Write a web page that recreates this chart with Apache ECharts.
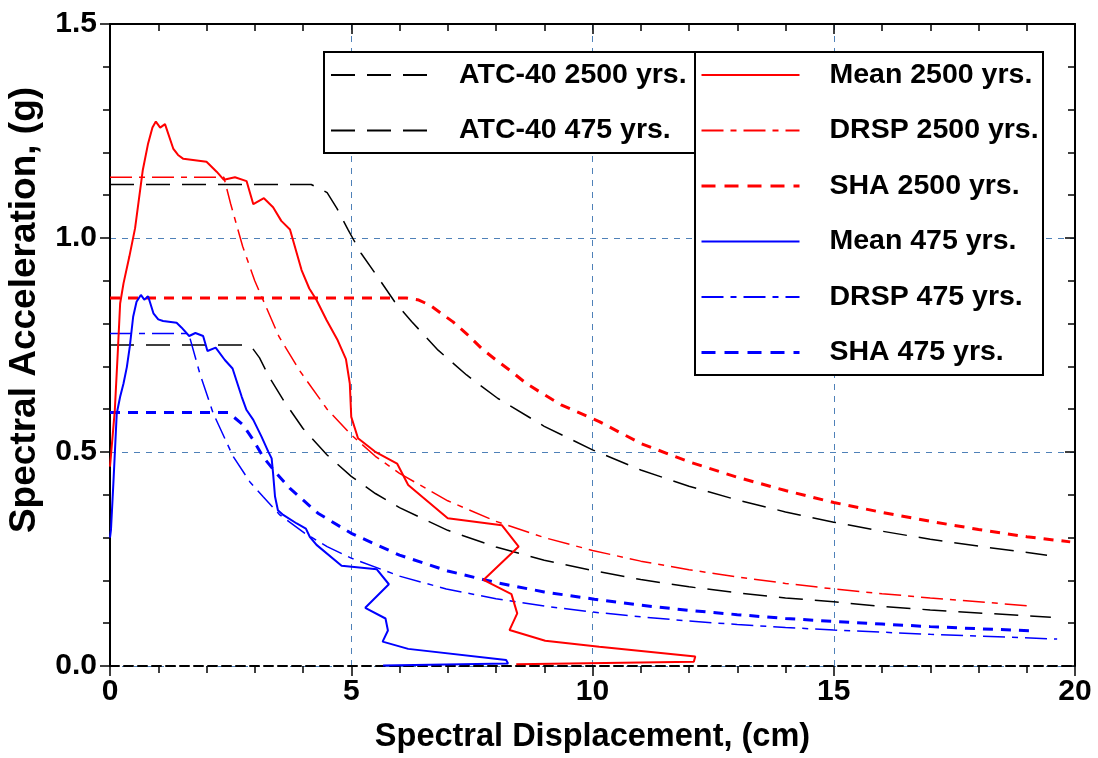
<!DOCTYPE html>
<html>
<head>
<meta charset="utf-8">
<script src="https://cdn.jsdelivr.net/npm/echarts@6/dist/echarts.min.js"></script>
<style>
html,body{margin:0;padding:0;background:#fff;}
#chart{width:1098px;height:758px;}
</style>
</head>
<body>
<div id="chart"></div>
<script>
// ---- data (x: cm, y: g) ----
const atc2500 = [[0,1.125],[4.17,1.125],[4.35,1.115],[4.5,1.106],[4.7,1.07],[4.93,1.02],[5.2,0.965],[5.59,0.902],[5.9,0.851],[6.25,0.805],[6.8,0.738],[7.39,0.68],[8.04,0.625],[9,0.56],[10,0.505],[11,0.458],[12,0.42],[13,0.388],[14,0.36],[15,0.336],[16,0.315],[17,0.296],[18,0.28],[19.42,0.259]];
const atc475 = [[0,0.75],[2.80,0.75],[2.95,0.743],[3.1,0.72],[3.3,0.675],[3.6,0.62],[4.0,0.555],[4.5,0.493],[5.0,0.443],[5.5,0.403],[6,0.37],[7,0.317],[8,0.278],[9,0.247],[10,0.223],[11,0.202],[12,0.185],[13,0.171],[14,0.159],[15,0.15],[16,0.139],[17,0.131],[18,0.124],[19.5,0.114]];
const mean2500 = [[0.0,0.466],[0.10,0.598],[0.16,0.73],[0.19,0.80],[0.21,0.847],[0.28,0.894],[0.40,0.956],[0.52,1.023],[0.68,1.159],[0.79,1.221],[0.88,1.258],[0.95,1.272],[1.04,1.258],[1.14,1.266],[1.31,1.209],[1.41,1.194],[1.52,1.185],[2.0,1.178],[2.21,1.155],[2.36,1.136],[2.59,1.142],[2.83,1.133],[2.97,1.079],[3.19,1.093],[3.38,1.072],[3.55,1.040],[3.73,1.020],[3.97,0.925],[4.13,0.882],[4.28,0.855],[4.49,0.808],[4.71,0.763],[4.89,0.717],[4.97,0.660],[5.0,0.582],[5.14,0.532],[5.49,0.501],[5.95,0.473],[6.18,0.423],[7.0,0.345],[8.12,0.329],[8.47,0.279],[7.74,0.201],[8.32,0.168],[8.44,0.123],[8.28,0.084],[9.02,0.059],[10.14,0.045],[12.13,0.022],[12.1,0.01],[8.42,0.004]];
const drsp2500 = [[0,1.142],[2.36,1.142],[2.5,1.08],[2.75,0.98],[3.0,0.9],[3.5,0.77],[3.93,0.69],[4.5,0.60],[5.0,0.54],[5.5,0.49],[6,0.45],[7,0.386],[8,0.338],[9,0.30],[10,0.27],[11,0.245],[12,0.225],[13,0.208],[14,0.193],[15,0.18],[16,0.169],[17,0.159],[18,0.15],[19.0,0.141]];
const sha2500 = [[0,0.86],[6.14,0.86],[6.4,0.855],[6.63,0.843],[7.11,0.804],[7.42,0.773],[7.70,0.742],[8.0,0.715],[8.32,0.688],[8.63,0.66],[8.97,0.636],[9.35,0.61],[10.14,0.571],[11,0.52],[12,0.477],[13,0.441],[14,0.41],[15,0.382],[16,0.359],[17,0.338],[18,0.319],[19,0.302],[19.9,0.29]];
const mean475 = [[0.0,0.30],[0.02,0.318],[0.07,0.427],[0.14,0.590],[0.21,0.629],[0.28,0.66],[0.35,0.699],[0.41,0.746],[0.48,0.816],[0.55,0.851],[0.64,0.867],[0.71,0.856],[0.79,0.864],[0.90,0.824],[1.0,0.81],[1.10,0.806],[1.38,0.802],[1.48,0.791],[1.64,0.771],[1.77,0.778],[1.93,0.771],[2.02,0.736],[2.19,0.744],[2.38,0.715],[2.54,0.695],[2.73,0.629],[2.83,0.598],[2.97,0.575],[3.14,0.536],[3.28,0.501],[3.35,0.485],[3.38,0.450],[3.42,0.396],[3.48,0.364],[3.59,0.353],[3.87,0.333],[4.06,0.321],[4.14,0.302],[4.28,0.283],[4.80,0.234],[5.53,0.226],[5.78,0.191],[5.29,0.136],[5.71,0.111],[5.76,0.083],[5.65,0.057],[6.18,0.040],[8.21,0.014],[8.25,0.006],[5.66,0.001]];
const drsp475 = [[0,0.777],[1.63,0.777],[1.86,0.684],[2.14,0.59],[2.55,0.49],[2.9,0.43],[3.17,0.396],[3.52,0.353],[4.04,0.31],[4.5,0.279],[5,0.252],[6,0.21],[6.97,0.18],[8,0.157],[9,0.14],[10,0.126],[11,0.115],[12,0.105],[13,0.097],[14,0.09],[15,0.084],[16,0.079],[17,0.074],[18,0.07],[19.63,0.063]];
const sha475 = [[0,0.592],[2.45,0.592],[2.52,0.586],[2.76,0.563],[2.97,0.528],[3.17,0.489],[3.45,0.45],[3.73,0.415],[4.04,0.384],[4.31,0.357],[5,0.31],[6,0.259],[7,0.222],[8,0.195],[9,0.173],[10.04,0.156],[11,0.142],[12,0.13],[13,0.12],[14,0.111],[15,0.104],[16,0.098],[17,0.092],[18,0.087],[19.2,0.082]];

const legendLeftNames = ['ATC-40 2500 yrs.', 'ATC-40 475 yrs.'];
const legendRightNames = ['Mean 2500 yrs.', 'DRSP 2500 yrs.', 'SHA 2500 yrs.', 'Mean 475 yrs.', 'DRSP 475 yrs.', 'SHA 475 yrs.'];
const xTitle = 'Spectral Displacement, (cm)';
const yTitle = 'Spectral Acceleration, (g)';

// ---- styles ----
const FONT = 'Liberation Sans, Arial, sans-serif';
const RED = '#ff0000', BLUE = '#0000ff', BLACK = '#000000';
const GRIDC = '#4f81b8';

function ser(name, data, color, type, width, z) {
  return {
    name, type: 'line', data, symbol: 'none', showSymbol: false,
    xAxisIndex: 0, yAxisIndex: 0, z: z || 2, silent: true, animation: false,
    lineStyle: { color, type, width, cap: 'butt' },
    itemStyle: { color }
  };
}

const chart = echarts.init(document.getElementById('chart'), null, { renderer: 'canvas' });

const baseTick = { show: true, length: 10, lineStyle: { color: BLACK, width: 1.5 } };
const baseMinor = { show: true, splitNumber: 5, length: 7, lineStyle: { color: BLACK, width: 1.5 } };

const legendCommon = {
  orient: 'vertical', top: 60, z: 20,
  itemHeight: 30, itemGap: 25.5,
  itemStyle: { opacity: 0, borderWidth: 0 },
  selectedMode: false, padding: 0
};

function legendItems(names) {
  return names.map(n => n.indexOf('SHA') === 0
    ? { name: n, lineStyle: { width: 3, type: [14, 9] } }
    : { name: n });
}

const option = {
  animation: false,
  backgroundColor: '#ffffff',
  grid: { left: 110, right: 23, top: 24, bottom: 92, containLabel: false, outerBoundsMode: 'none' },
  xAxis: [
    {
      type: 'value', position: 'bottom', min: 0, max: 20, interval: 5,
      name: xTitle, nameLocation: 'middle', nameGap: 55,
      nameTextStyle: { fontFamily: FONT, fontWeight: 'bold', fontSize: 32.5, color: BLACK },
      axisLine: { show: true, onZero: false, lineStyle: { color: BLACK, width: 2, type: [9, 5] } },
      axisTick: Object.assign({}, baseTick, { inside: false }),
      minorTick: Object.assign({}, baseMinor),
      axisLabel: { fontFamily: FONT, fontWeight: 'bold', fontSize: 30, color: BLACK, margin: 11 },
      splitLine: { show: true, lineStyle: { color: GRIDC, type: [6, 6], width: 1 } },
      minorSplitLine: { show: false }
    },
    {
      type: 'value', position: 'top', min: 0, max: 20, interval: 5,
      axisLine: { show: true, onZero: false, lineStyle: { color: BLACK, width: 2 } },
      axisTick: Object.assign({}, baseTick, { inside: true }),
      minorTick: Object.assign({}, baseMinor),
      axisLabel: { show: false },
      splitLine: { show: false }
    }
  ],
  yAxis: [
    {
      type: 'value', position: 'left', min: 0, max: 1.5, interval: 0.5,
      name: yTitle, nameLocation: 'middle', nameGap: 67, nameRotate: 90,
      nameTextStyle: { fontFamily: FONT, fontWeight: 'bold', fontSize: 37, color: BLACK, padding: [0, 0, 0, 70] },
      axisLine: { show: true, onZero: false, lineStyle: { color: BLACK, width: 2 } },
      axisTick: Object.assign({}, baseTick, { inside: false }),
      minorTick: Object.assign({}, baseMinor),
      axisLabel: { fontFamily: FONT, fontWeight: 'bold', fontSize: 30, color: BLACK, margin: 13,
        formatter: v => v.toFixed(1) },
      splitLine: { show: true, lineStyle: { color: GRIDC, type: [6, 6], width: 1 } },
      minorSplitLine: { show: false }
    },
    {
      type: 'value', position: 'right', min: 0, max: 1.5, interval: 0.5,
      axisLine: { show: true, onZero: false, lineStyle: { color: BLACK, width: 2 } },
      axisTick: Object.assign({}, baseTick, { inside: true }),
      minorTick: Object.assign({}, baseMinor),
      axisLabel: { show: false },
      splitLine: { show: false }
    }
  ],
  legend: [
    Object.assign({}, legendCommon, {
      data: legendItems(legendLeftNames), left: 330, itemWidth: 97,
      textStyle: { fontFamily: FONT, fontWeight: 'bold', fontSize: 28.5, color: BLACK, padding: [0, 0, 0, 26], lineHeight: 30 }
    }),
    Object.assign({}, legendCommon, {
      data: legendItems(legendRightNames), left: 700, itemWidth: 98,
      textStyle: { fontFamily: FONT, fontWeight: 'bold', fontSize: 28.5, color: BLACK, padding: [0, 0, 0, 25], lineHeight: 30 }
    })
  ],
  graphic: [
    { type: 'rect', shape: { x: 324, y: 52, width: 371, height: 101 }, style: { fill: '#fff', stroke: BLACK, lineWidth: 2 }, z: 10, silent: true },
    { type: 'rect', shape: { x: 695, y: 52, width: 348, height: 323 }, style: { fill: '#fff', stroke: BLACK, lineWidth: 2 }, z: 10, silent: true }
  ],
  series: [
    ser('ATC-40 2500 yrs.', atc2500, BLACK, [24, 12], 1.5, 2),
    ser('ATC-40 475 yrs.', atc475, BLACK, [24, 12], 1.5, 2),
    ser('SHA 2500 yrs.', sha2500, RED, [10, 8], 3, 3),
    ser('SHA 475 yrs.', sha475, BLUE, [10, 8], 3, 3),
    ser('DRSP 2500 yrs.', drsp2500, RED, [22, 7, 6, 7], 1.5, 3),
    ser('DRSP 475 yrs.', drsp475, BLUE, [22, 7, 6, 7], 1.5, 3),
    ser('Mean 2500 yrs.', mean2500, RED, 'solid', 2, 4),
    ser('Mean 475 yrs.', mean475, BLUE, 'solid', 2, 4)
  ]
};
chart.setOption(option);
</script>
</body>
</html>
